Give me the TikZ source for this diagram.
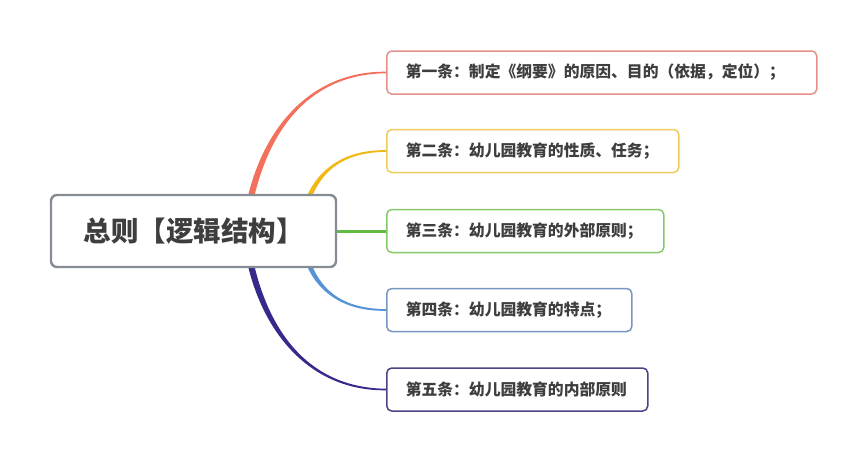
\documentclass[tikz,border=0pt]{standalone}
\usepackage{fontspec}
\newfontfamily\cjk{Noto Sans CJK SC}
\usetikzlibrary{calc,backgrounds}
\definecolor{txt}{HTML}{3E3E3E}
\definecolor{rootgray}{HTML}{868C93}
\definecolor{cRed}{HTML}{F2705C}
\definecolor{cYel}{HTML}{F0B716}
\definecolor{cGrn}{HTML}{62BC44}
\definecolor{cBlu}{HTML}{5592D6}
\definecolor{cPur}{HTML}{35298A}
\definecolor{bRed}{HTML}{E5908A}
\definecolor{bYel}{HTML}{EFCB5A}
\definecolor{bGrn}{HTML}{86C96A}
\definecolor{bBlu}{HTML}{7896C2}
\definecolor{bPur}{HTML}{4C4384}
% tapered branch: color, start, c1dx, c1dy, end, c2dx, sign, start half width
\newcommand\twig[8]{%
  \fill[#1] ($(#2)+({-#8},0)$) .. controls ($(#2)+({#3-#8},{#4})$) and ($(#5)+({#6},{-1.5*(#7)})$) .. ($(#5)+(0,{-0.8*(#7)})$)
    -- ($(#5)+(0,{0.8*(#7)})$) .. controls ($(#5)+({#6},{1.5*(#7)})$) and ($(#2)+({#3+#8},{#4})$) .. ($(#2)+({#8},0)$) -- cycle;}
\begin{document}
\begin{tikzpicture}[x=1pt,y=-1pt,
  rootbox/.style={draw=rootgray, line width=2.4pt, rounded corners=6pt, fill=white,
    minimum width=285pt, minimum height=72pt, inner sep=0pt,
    font=\cjk\bfseries\fontsize{27.5}{32}\selectfont, text=txt},
  leaf/.style={draw=#1, line width=1.5pt, rounded corners=5pt, fill=white, anchor=west,
    align=left, inner xsep=19pt, inner ysep=0pt, minimum height=43pt,
    font=\cjk\bfseries\fontsize{15.8}{18}\selectfont, text=txt}]
\useasboundingbox (0,0) rectangle (866,461);
\node[rootbox] (root) at (193.5,231) {总则【逻辑结构】};
\node[leaf=bRed, text width=392pt] (b1) at (386,72.5) {第一条：制定《纲要》的原因、目的（依据，定位）；};
\node[leaf=bYel, text width=254pt] (b2) at (386,151) {第二条：幼儿园教育的性质、任务；};
\node[leaf=bGrn, text width=239pt] (b3) at (386,231) {第三条：幼儿园教育的外部原则；};
\node[leaf=bBlu, text width=207pt] (b4) at (386,310) {第四条：幼儿园教育的特点；};
\node[leaf=bPur, text width=223pt] (b5) at (386,389.5) {第五条：幼儿园教育的内部原则};
\coordinate (s1) at ($(root.north west)+(201,4)$);
\coordinate (s2) at ($(root.north west)+(259,4)$);
\coordinate (s4) at ($(root.south west)+(259,-4)$);
\coordinate (s5) at ($(root.south west)+(201,-4)$);
\begin{scope}[on background layer]
  \twig{cRed}{s1}{16}{-69}{b1.west}{-76}{1}{3.2}
  \twig{cYel}{s2}{12}{-29}{b2.west}{-41}{1}{2.6}
  \draw[cGrn, line width=3pt] (root.east) -- (b3.west);
  \twig{cBlu}{s4}{12}{29}{b4.west}{-41}{-1}{2.6}
  \twig{cPur}{s5}{16}{69}{b5.west}{-76}{-1}{3.2}
\end{scope}
\end{tikzpicture}
\end{document}
